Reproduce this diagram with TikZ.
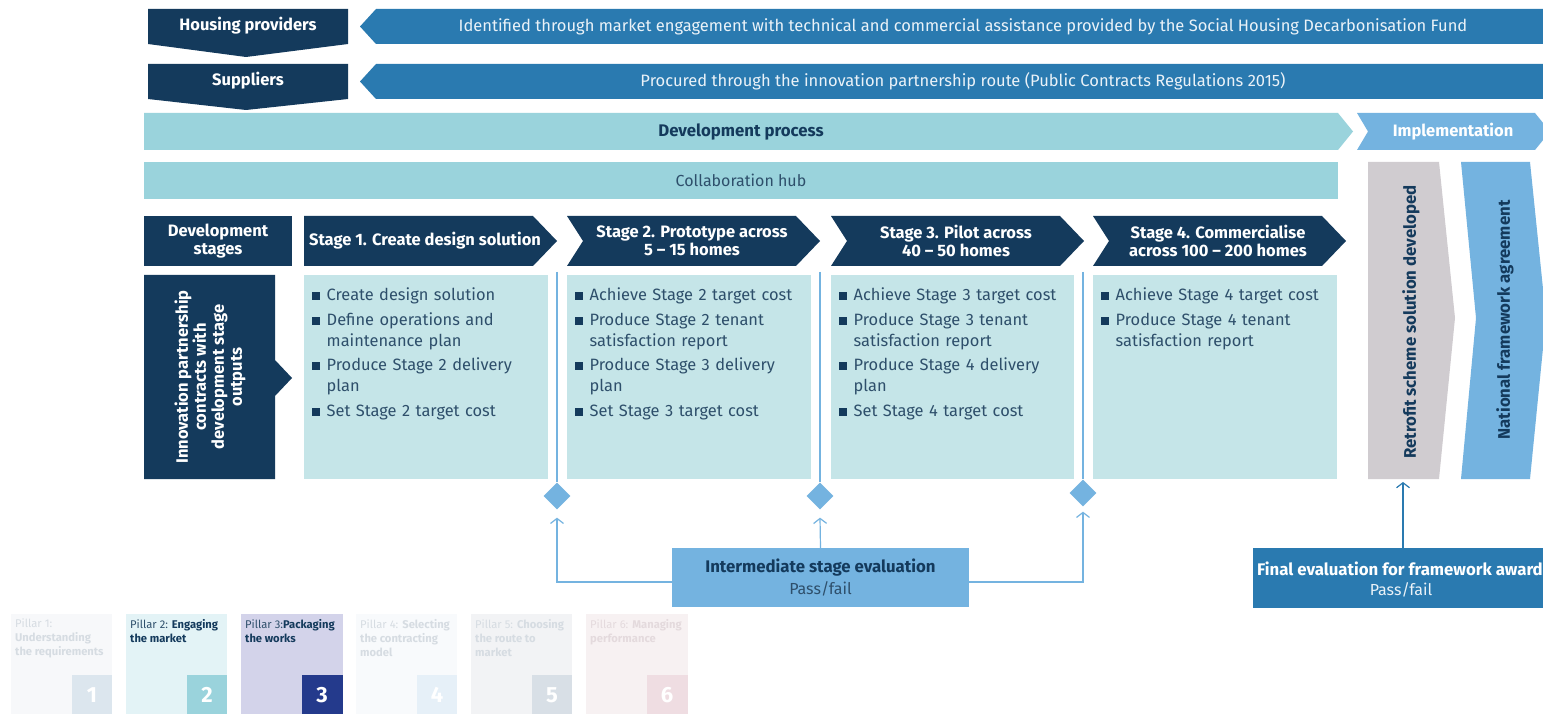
\documentclass[tikz,border=0pt]{standalone}
\usepackage{fontspec}
\setmainfont{Fira Sans}
\usetikzlibrary{arrows.meta,shapes.geometric}
\definecolor{navy}{HTML}{143A5C}
\definecolor{bannerblue}{HTML}{2A7AB0}
\definecolor{lightblue}{HTML}{74B3E0}
\definecolor{teal}{HTML}{9AD3DC}
\definecolor{paleteal}{HTML}{C5E5E8}
\definecolor{greybox}{HTML}{D0CCD0}
\definecolor{slate}{HTML}{2E4F6B}
\definecolor{bannertext}{HTML}{EAF2F8}
\definecolor{fadetext}{HTML}{D6DCE2}
\definecolor{pOneBg}{HTML}{F7F8FA}
\definecolor{pOneNum}{HTML}{DCE6EE}
\definecolor{pTwoBg}{HTML}{E3F3F6}
\definecolor{pTwoNum}{HTML}{9AD3DC}
\definecolor{pThreeBg}{HTML}{D3D3EA}
\definecolor{pThreeNum}{HTML}{243A8C}
\definecolor{pFourBg}{HTML}{F8FAFC}
\definecolor{pFourNum}{HTML}{E6F0F8}
\definecolor{pFiveBg}{HTML}{F2F3F5}
\definecolor{pFiveNum}{HTML}{D8DFE6}
\definecolor{pSixBg}{HTML}{F7F1F2}
\definecolor{pSixNum}{HTML}{EFDDE2}
\definecolor{pSixText}{HTML}{E4DADD}
\newcommand{\bitem}[1]{\hangindent=14.5pt\hangafter=1\noindent\makebox[14.5pt][l]{\textcolor{navy}{\rule[0.5pt]{8pt}{8pt}}}#1\par}
\newcommand{\stagechev}[2]{\fill[navy] (#1,216) -- ++(229,0) -- ++(24,25) -- ++(-24,25) -- (#1,266) #2 -- cycle;}
\begin{document}
\begin{tikzpicture}[x=1pt,y=-1pt,
  hdr/.style={font=\fontsize{16.5}{18}\selectfont\bfseries, text=white, align=center, inner sep=0pt},
  bodytext/.style={font=\fontsize{16.4}{21}\selectfont\setlength{\parskip}{3.5pt}, text=slate, align=left, anchor=north west, inner sep=0pt, text width=245pt},
  bannertxt/.style={font=\fontsize{16.5}{18}\selectfont, text=bannertext, inner sep=0pt},
  navybold/.style={font=\fontsize{16.8}{18}\selectfont\bfseries, text=navy, inner sep=0pt},
  pillartxt/.style={font=\fontsize{11.2}{14}\selectfont, anchor=north west, inner sep=0pt, align=left},
  pillarnum/.style={font=\fontsize{22}{24}\selectfont\bfseries, text=white, inner sep=0pt},
  evalline/.style={draw=lightblue, line width=1.2pt},
  evalarrow/.style={evalline, -{Straight Barb[length=5pt,width=13pt,line width=1.2pt]}},
  gate/.style={diamond, fill=lightblue, minimum size=27pt, inner sep=0pt}
]
\useasboundingbox (0,0) rectangle (1543,714);
\fill[white] (0,0) rectangle (1543,714);

% top rows
\fill[navy] (148,9) -- (348,9) -- (348,44) -- (246,57) -- (148,44) -- cycle;
\node[hdr] (hp) at (248,26) {Housing providers};
\fill[bannerblue] (360,26.5) -- (376,9) -- (1543,9) -- (1543,44) -- (376,44) -- cycle;
\node[bannertxt] (hptext) at (963,26.5) {Identified through market engagement with technical and commercial assistance provided by the Social Housing Decarbonisation Fund};

\fill[navy] (148,64) -- (348,64) -- (348,99) -- (246,110) -- (148,99) -- cycle;
\node[hdr] (sup) at (248,81) {Suppliers};
\fill[bannerblue] (360,81.5) -- (376,64) -- (1543,64) -- (1543,99) -- (376,99) -- cycle;
\node[bannertxt] (suptext) at (963,81.5) {Procured through the innovation partnership route (Public Contracts Regulations 2015)};

% development process / implementation
\fill[teal] (144,113) -- (1338,113) -- (1353,131.5) -- (1338,150) -- (144,150) -- cycle;
\node[navybold] (dp) at (741,131.5) {Development process};
\fill[lightblue] (1357,113) -- (1535,113) -- (1550,131.5) -- (1535,150) -- (1357,150) -- (1368,131.5) -- cycle;
\node[hdr] (impl) at (1453,131.5) {Implementation};

% collaboration hub
\fill[teal] (144,162) rectangle (1338,199);
\node[font=\fontsize{16}{18}\selectfont, text=slate, inner sep=0pt] (hub) at (741,180.5) {Collaboration hub};

% right verticals
\fill[greybox] (1368,162) -- (1439,162) -- (1455,318) -- (1439,479) -- (1368,479) -- cycle;
\node[navybold, rotate=90] (retro) at (1411,322) {Retrofit scheme solution developed};
\fill[lightblue] (1461,162) -- (1530,162) -- (1546,318) -- (1530,479) -- (1461,479) -- (1476,318) -- cycle;
\node[navybold, rotate=90] (nat) at (1505,320) {National framework agreement};

% development stages row
\fill[navy] (144,216) rectangle (292,266);
\node[hdr] (ds) at (218,241) {Development\\stages};
\stagechev{304}{}
\node[hdr] (s1) at (425,241) {Stage 1. Create design solution};
\stagechev{567}{-- ++(16,-25)}
\node[hdr] (s2) at (692,241) {Stage 2. Prototype across\\5 -- 15 homes};
\stagechev{831}{-- ++(16,-25)}
\node[hdr] (s3) at (956,241) {Stage 3. Pilot across\\40 -- 50 homes};
\stagechev{1093}{-- ++(16,-25)}
\node[hdr] (s4) at (1218,241) {Stage 4. Commercialise\\across 100 -- 200 homes};

% innovation box
\fill[navy] (144,275) -- (275,275) -- (275,360) -- (292,378) -- (275,396) -- (275,479) -- (144,479) -- cycle;
\node[hdr, rotate=90] (innov) at (210,377) {Innovation partnership\\contracts with\\development stage\\outputs};

% content boxes
\fill[paleteal] (304,275) rectangle (548,479);
\fill[paleteal] (567,275) rectangle (811,479);
\fill[paleteal] (831,275) rectangle (1074,479);
\fill[paleteal] (1093,275) rectangle (1337,479);

\node[bodytext] (c1) at (312,288) {\bitem{Create design solution}\bitem{Define operations and\newline maintenance plan}\bitem{Produce Stage 2 delivery\newline plan}\bitem{Set Stage 2 target cost}};
\node[bodytext] (c2) at (575,288) {\bitem{Achieve Stage 2 target cost}\bitem{Produce Stage 2 tenant\newline satisfaction report}\bitem{Produce Stage 3 delivery\newline plan}\bitem{Set Stage 3 target cost}};
\node[bodytext] (c3) at (839,288) {\bitem{Achieve Stage 3 target cost}\bitem{Produce Stage 3 tenant\newline satisfaction report}\bitem{Produce Stage 4 delivery\newline plan}\bitem{Set Stage 4 target cost}};
\node[bodytext] (c4) at (1101,288) {\bitem{Achieve Stage 4 target cost}\bitem{Produce Stage 4 tenant\newline satisfaction report}};

% gates
\node[gate] (g1) at (557,496) {};
\node[gate] (g2) at (820,496) {};
\node[gate] (g3) at (1083,493) {};
\coordinate (l1) at (557,272);
\coordinate (l2) at (820,272);
\coordinate (l3) at (1083,272);
\draw[evalline] (l1) -- (g1.north);
\draw[evalline] (l2) -- (g2.north);
\draw[evalline] (l3) -- (g3.north);

% intermediate evaluation
\node[fill=lightblue, minimum width=297pt, minimum height=59pt, inner sep=0pt] (ieval) at (820.5,577.5) {};
\node[navybold] (ievalA) at (820.5,568) {Intermediate stage evaluation};
\node[font=\fontsize{16}{18}\selectfont, text=slate, inner sep=0pt] (ievalB) at (820.5,589) {Pass/fail};
\draw[evalarrow] ([yshift=-4.5pt]ieval.west) -| ([yshift=-8pt]g1.south);
\draw[evalarrow] ([yshift=-4.5pt]ieval.east) -| ([yshift=-5pt]g3.south);
\draw[evalarrow] (ieval.north) -- ([yshift=-8pt]g2.south);

% final evaluation
\node[fill=bannerblue, minimum width=310pt, minimum height=60pt, inner sep=0pt, anchor=north west] (feval) at (1253,548) {};
\node[hdr, font=\fontsize{16.8}{18}\selectfont\bfseries] (fevalA) at (1400,569) {Final evaluation for framework award};
\node[font=\fontsize{16}{18}\selectfont, text=bannertext, inner sep=0pt] (fevalB) at (1401,590) {Pass/fail};
\coordinate (fe) at (1403,548);
\coordinate (rt) at (1403,482);
\draw[draw=bannerblue, line width=1.2pt, -{Straight Barb[length=5pt,width=13pt,line width=1.2pt]}] (fe) -- (rt);

% pillars
\fill[pOneBg] (11,614) rectangle (112,714);
\fill[pOneNum] (72,675) rectangle (112,714);
\node[pillartxt, text=fadetext] (p1) at (15,619) {Pillar 1:\\\textbf{Understanding}\\\textbf{the requirements}};
\node[pillarnum] (n1) at (92,695) {1};

\fill[pTwoBg] (126,614) rectangle (227,714);
\fill[pTwoNum] (187,675) rectangle (227,714);
\node[pillartxt, text=slate] (p2) at (130,619) {Pillar 2: \textbf{\textcolor{navy}{Engaging}}\\\textbf{\textcolor{navy}{the market}}};
\node[pillarnum] (n2) at (207,695) {2};

\fill[pThreeBg] (241,614) rectangle (343,714);
\fill[pThreeNum] (302,675) rectangle (343,714);
\node[pillartxt, text=slate] (p3) at (245,619) {Pillar 3:\textbf{\textcolor{navy}{Packaging}}\\\textbf{\textcolor{navy}{the works}}};
\node[pillarnum] (n3) at (322,695) {3};

\fill[pFourBg] (356,614) rectangle (457,714);
\fill[pFourNum] (417,675) rectangle (457,714);
\node[pillartxt, text=fadetext] (p4) at (360,619) {Pillar 4: \textbf{Selecting}\\\textbf{the contracting}\\\textbf{model}};
\node[pillarnum] (n4) at (437,695) {4};

\fill[pFiveBg] (471,614) rectangle (572,714);
\fill[pFiveNum] (532,675) rectangle (572,714);
\node[pillartxt, text=fadetext] (p5) at (475,619) {Pillar 5: \textbf{Choosing}\\\textbf{the route to}\\\textbf{market}};
\node[pillarnum] (n5) at (552,695) {5};

\fill[pSixBg] (586,614) rectangle (688,714);
\fill[pSixNum] (647,675) rectangle (688,714);
\node[pillartxt, text=pSixText] (p6) at (590,619) {Pillar 6: \textbf{Managing}\\\textbf{performance}};
\node[pillarnum] (n6) at (667,695) {6};
\end{tikzpicture}
\end{document}
